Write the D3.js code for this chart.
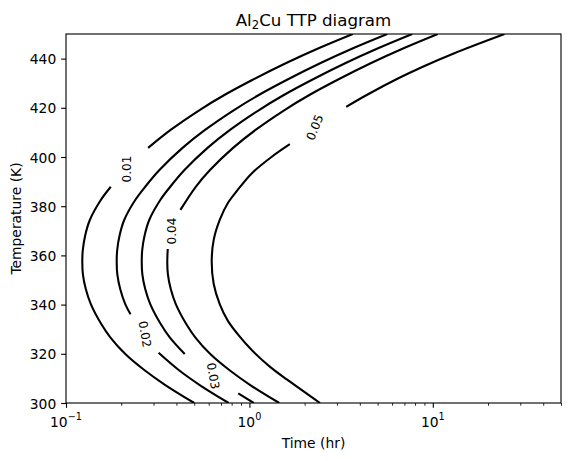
<!DOCTYPE html>
<html lang="en">
<head>
<meta charset="utf-8">
<title>Al2Cu TTP diagram</title>
<script src="https://d3js.org/d3.v7.min.js"></script>
<style>
  body { margin: 0; background: #fff; }
  svg text { font-family: "DejaVu Sans", sans-serif; fill: #000; }
  .axis path { display: none; }
  .axis line { stroke: #000; }
</style>
</head>
<body>
<svg id="chart" width="571" height="461"></svg>
<script>
// contour levels, each one a list of segments of [time (hr), temperature (K)]
var levels = ["0.01", "0.02", "0.03", "0.04", "0.05"];

var c01 = [
  [[3.663,450],[2.401,444.3],[1.588,438.2],[1.036,431.3],[0.7306,425.2],[0.5352,419.1],[0.3718,411.0],[0.2804,403.7]],
  [[0.1755,387.9],[0.1548,382.5],[0.1349,374.4],[0.1274,368.3],[0.1235,362.2],[0.1227,357.3],[0.1236,352.4],[0.1282,346.3],[0.1366,340.2],[0.1557,332.1],[0.1744,326.7],[0.2106,319.9],[0.2672,313.4],[0.3480,307.3],[0.5006,300]]
];
var c02 = [
  [[5.642,450],[3.699,444.3],[2.446,438.2],[1.595,431.3],[1.125,425.2],[0.8244,419.1],[0.5727,411.0],[0.4319,403.7],[0.3232,394.7],[0.2703,387.9],[0.2385,382.5],[0.2077,374.4],[0.1962,368.3],[0.1902,362.2],[0.1890,357.3],[0.1904,352.4],[0.1975,346.3],[0.2104,340.2],[0.2248,336.1]],
  [[0.3198,320.4],[0.4116,313.4],[0.5360,307.3],[0.7711,300]]
];
var c03 = [
  [[7.725,450],[5.065,444.3],[3.349,438.2],[2.185,431.3],[1.541,425.2],[1.129,419.1],[0.7842,411.0],[0.5914,403.7],[0.4425,394.7],[0.3701,387.9],[0.3266,382.5],[0.2844,374.4],[0.2686,368.3],[0.2604,362.2],[0.2588,357.3],[0.2607,352.4],[0.2704,346.3],[0.2880,340.2],[0.3284,332.1],[0.3678,326.7],[0.4441,319.9]],
  [[0.8693,303.9],[1.056,300]]
];
var c04 = [
  [[10.64,450],[6.979,444.3],[4.614,438.2],[3.010,431.3],[2.123,425.2],[1.555,419.1],[1.080,411.0],[0.8148,403.7],[0.6098,394.7],[0.5099,387.9],[0.4205,378.5]],
  [[0.3588,362.6],[0.3566,357.3],[0.3593,352.4],[0.3726,346.3],[0.3969,340.2],[0.4525,332.1],[0.5067,326.7],[0.6119,319.9],[0.7767,313.4],[1.011,307.3],[1.455,300]]
];
var c05 = [
  [[1.661,405.2],[1.325,400.1],[1.032,393.4],[0.8635,386.6],[0.7619,381.2],[0.6890,374.4],[0.6388,366.3],[0.6230,357.3],[0.6388,348.4],[0.6890,340.2],[0.7619,333.5],[0.8635,328.0],[1.036,321.3],[1.306,314.5],[1.607,309.5],[2.427,300]],
  [[3.372,420.4],[4.361,425.2],[6.492,432.0],[8.822,436.7],[13.10,442.2],[24.60,450]]
];

// inline contour labels
var labelTime = [0.2164, 0.2686, 0.633, 0.3784, 2.279];
var labelTemp = [395.1, 328.0, 311.0, 369.9, 412.0];

// ticks
var xMajor = [0.1, 1, 10];
var xExp = ["\u22121", "0", "1"];
var xMinor = [0.2,0.3,0.4,0.5,0.6,0.7,0.8,0.9,2,3,4,5,6,7,8,9,20,30,40,50];
var yTicks = [300, 320, 340, 360, 380, 400, 420, 440];

var contours = [c01, c02, c03, c04, c05];
var labelAngle = [-90, 80, 80, -90, -68];

var plotL = 66, plotT = 34, plotR = 561, plotB = 403;
var fs = 13.89;

var svg = d3.select("#chart");
var x = d3.scaleLog().domain([0.1, 50]).range([plotL, plotR]);
var y = d3.scaleLinear().domain([300, 450]).range([plotB, plotT]);

svg.append("clipPath").attr("id", "plotclip")
  .append("rect")
    .attr("x", plotL).attr("y", plotT)
    .attr("width", plotR - plotL).attr("height", plotB - plotT);

var line = d3.line()
  .x(function(d) { return x(d[0]); })
  .y(function(d) { return y(d[1]); })
  .curve(d3.curveCatmullRom.alpha(0.5));

var g = svg.append("g").attr("clip-path", "url(#plotclip)");
contours.forEach(function(segs) {
  g.selectAll(null)
    .data(segs)
    .enter()
    .append("path")
      .attr("d", line)
      .attr("fill", "none")
      .attr("stroke", "#000")
      .attr("stroke-width", 2.08);
});

// contour labels
svg.selectAll(".clabel")
  .data(levels)
  .enter()
  .append("text")
    .attr("class", "clabel")
    .attr("transform", function(d, i) {
      return "translate(" + x(labelTime[i]) + "," + y(labelTemp[i]) + ") rotate(" + labelAngle[i] + ")";
    })
    .attr("text-anchor", "middle")
    .attr("dominant-baseline", "central")
    .style("font-size", "12px")
    .text(function(d) { return d; });

// x axis: minor + major ticks
svg.append("g")
  .attr("class", "axis")
  .attr("transform", "translate(0," + plotB + ")")
  .call(d3.axisBottom(x).tickValues(xMinor).tickSize(2.78).tickFormat(""))
  .selectAll("line").attr("stroke-width", 0.83);

svg.append("g")
  .attr("class", "axis")
  .attr("transform", "translate(0," + plotB + ")")
  .call(d3.axisBottom(x).tickValues(xMajor).tickSize(4.86).tickFormat(""))
  .selectAll("line").attr("stroke-width", 1.11);

var xl = svg.selectAll(".xlab")
  .data(xMajor)
  .enter()
  .append("text")
    .attr("class", "xlab")
    .attr("x", function(d) { return x(d); })
    .attr("y", 426.5)
    .attr("text-anchor", "middle")
    .style("font-size", fs + "px");
xl.append("tspan").text("10");
xl.append("tspan")
  .attr("dy", -6.7)
  .style("font-size", (fs * 0.7) + "px")
  .text(function(d, i) { return xExp[i]; });

// y axis
var ya = svg.append("g")
  .attr("class", "axis")
  .attr("transform", "translate(" + plotL + ",0)")
  .call(d3.axisLeft(y).tickValues(yTicks).tickSize(4.86).tickPadding(4.86));
ya.selectAll("line").attr("stroke-width", 1.11);
ya.selectAll("text")
  .attr("dy", "0.36em")
  .style("font-size", fs + "px")
  .style("font-family", "DejaVu Sans")
  .attr("fill", "#000");

// frame
svg.append("rect")
  .attr("x", plotL).attr("y", plotT)
  .attr("width", plotR - plotL).attr("height", plotB - plotT)
  .attr("fill", "none")
  .attr("stroke", "#000")
  .attr("stroke-width", 1.11);

// title and axis labels
var title = svg.append("text")
  .attr("x", (plotL + plotR) / 2)
  .attr("y", 25.7)
  .attr("text-anchor", "middle")
  .style("font-size", "16.67px");
title.append("tspan").text("Al");
title.append("tspan").attr("dy", 3.5).style("font-size", "11.67px").text("2");
title.append("tspan").attr("dy", -3.5).text("Cu TTP diagram");

svg.append("text")
  .attr("x", (plotL + plotR) / 2)
  .attr("y", 448)
  .attr("text-anchor", "middle")
  .style("font-size", fs + "px")
  .text("Time (hr)");

svg.append("text")
  .attr("transform", "translate(21," + ((plotT + plotB) / 2) + ") rotate(-90)")
  .attr("text-anchor", "middle")
  .style("font-size", fs + "px")
  .text("Temperature (K)");
</script>
</body>
</html>
